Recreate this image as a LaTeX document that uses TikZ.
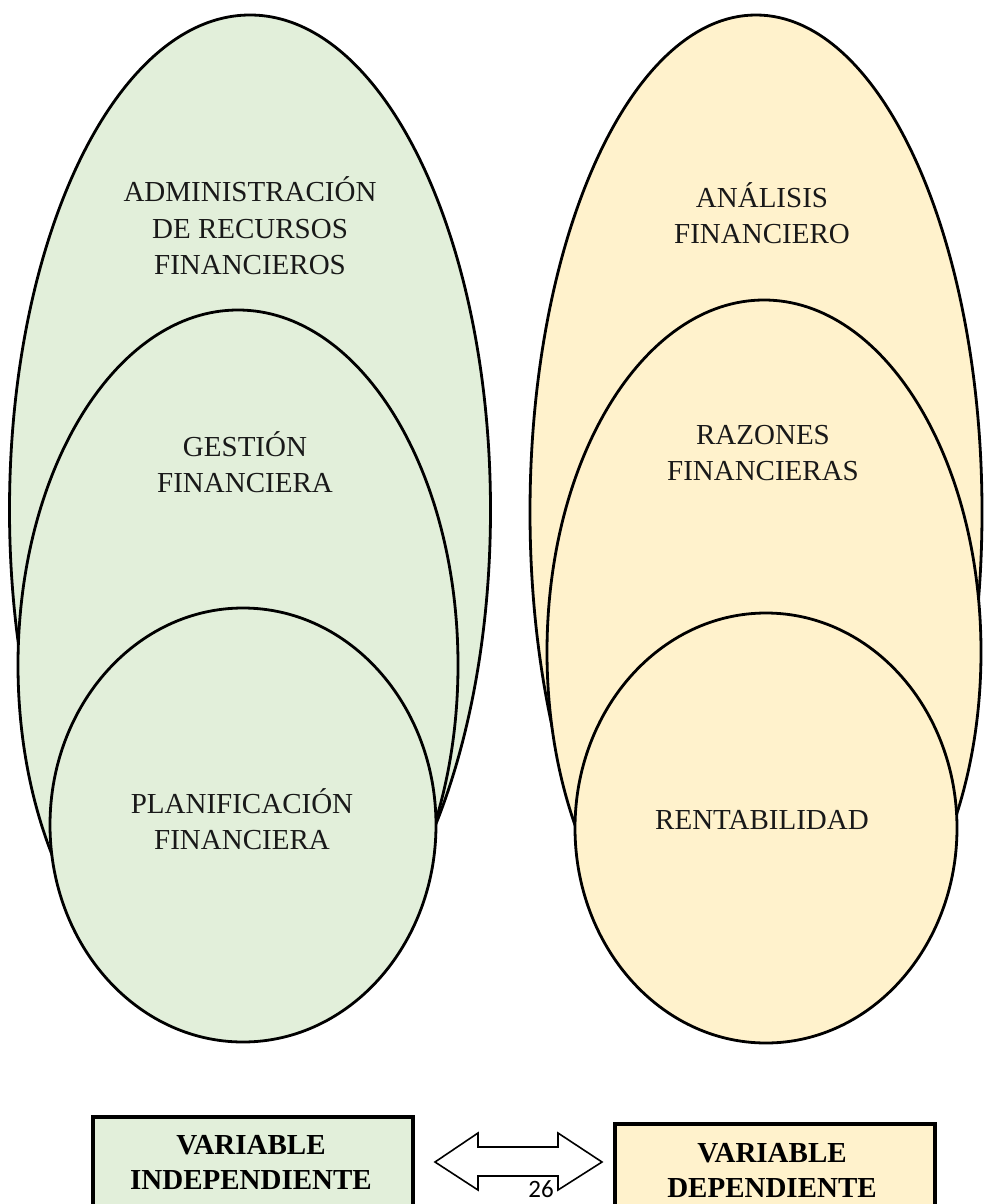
\documentclass[tikz,border=0pt]{standalone}
\usepackage{fontspec}
\setmainfont{Liberation Serif}
\newfontfamily\calibri{Carlito}
\usetikzlibrary{shapes.geometric}
\definecolor{gfill}{HTML}{E2EFDA}
\definecolor{yfill}{HTML}{FFF2CC}
\tikzset{
  elli/.style={ellipse, draw=black, line width=2.8pt, inner sep=0pt, outer sep=0pt},
  etext/.style={align=center, font=\fontsize{29}{36.5}\selectfont, text=black!90},
  varbox/.style={rectangle, draw=black, line width=3.8pt, inner sep=0pt, minimum width=320pt, minimum height=140pt, anchor=north west},
  btext/.style={align=center, font=\fontsize{29}{35}\selectfont\bfseries},
  blockarrow/.style={draw=black, line width=1.6pt, fill=white, line join=miter}
}
\begin{document}
\begin{tikzpicture}[x=1pt,y=-1pt]
\clip (0,0) rectangle (984,1204);
\fill[white] (0,0) rectangle (984,1204);
% left group
\node[elli, fill=gfill, minimum width=481pt, minimum height=990pt] (adm) at (250,510) {};
\node[elli, fill=gfill, minimum width=440pt, minimum height=710pt] (ges) at (238,665) {};
\node[elli, fill=gfill, minimum width=386pt, minimum height=434pt] (pla) at (243,825) {};
% right group
\node[elli, fill=yfill, minimum width=452pt, minimum height=994pt] (ana) at (756,512) {};
\node[elli, fill=yfill, minimum width=434pt, minimum height=704pt] (raz) at (764,652) {};
\node[elli, fill=yfill, minimum width=382pt, minimum height=430pt] (ren) at (766,828) {};
% texts
\node[etext] (admt) at (250,226) {ADMINISTRACIÓN\\DE RECURSOS\\FINANCIEROS};
\node[etext] (gest) at (245,462) {GESTIÓN\\FINANCIERA};
\node[etext] (plat) at (242,819) {PLANIFICACIÓN\\FINANCIERA};
\node[etext] (anat) at (762,213) {ANÁLISIS\\FINANCIERO};
\node[etext] (razt) at (763,453) {RAZONES\\FINANCIERAS};
\node[etext] (rent) at (762,820) {RENTABILIDAD};
% boxes
\node[varbox, fill=gfill] (vi) at (91,1115) {};
\node[varbox, fill=yfill] (vd) at (613,1122) {};
\node[btext] (vit) at (251,1162) {VARIABLE\\INDEPENDIENTE};
\node[btext] (vdt) at (772,1170) {VARIABLE\\DEPENDIENTE};
% double block arrow
\coordinate (al) at (435,1162);
\coordinate (ar) at (602,1162);
\draw[blockarrow] (al) -- ++(43,-29) -- ++(0,14) -- ++(80,0) -- ++(0,-14) -- (ar)
  -- ++(-44,28) -- ++(0,-14) -- ++(-80,0) -- ++(0,14) -- cycle;
\node[font=\calibri\fontsize{25}{25}\selectfont] (pg) at (541,1189) {26};
\end{tikzpicture}
\end{document}
